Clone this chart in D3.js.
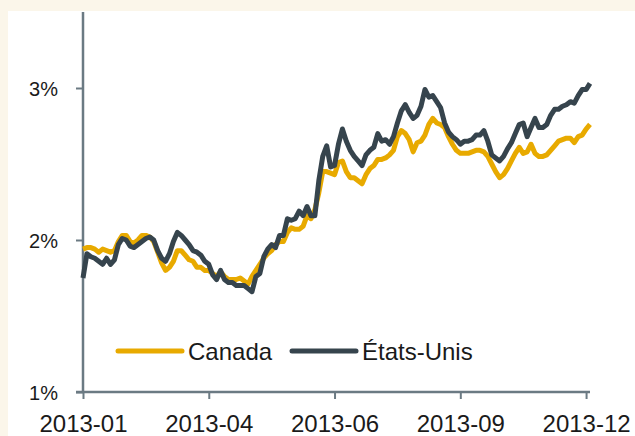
<!DOCTYPE html>
<html>
<head>
<meta charset="utf-8">
<script src="https://cdn.jsdelivr.net/npm/d3@7"></script>
<style>
  body { margin: 0; background: #fbf6ea; }
  text { font-family: "Liberation Sans", Arial, sans-serif; fill: #1a1a1a; }
</style>
</head>
<body>
<div id="chart"></div>
<script>
// rendement obligataire 10 ans, en %
var canada = [1.94,1.95,1.95,1.94,1.92,1.94,1.93,1.92,1.93,1.99,2.03,2.03,1.99,1.98,2.00,2.03,2.03,2.02,1.99,1.92,
  1.85,1.80,1.82,1.86,1.93,1.93,1.90,1.87,1.86,1.82,1.82,1.80,1.80,1.78,1.76,1.79,1.76,1.74,1.74,1.74,
  1.75,1.73,1.71,1.76,1.80,1.84,1.88,1.91,1.93,1.97,1.99,1.99,2.05,2.08,2.07,2.07,2.09,2.16,2.14,2.20,
  2.31,2.45,2.45,2.44,2.43,2.51,2.52,2.45,2.41,2.41,2.39,2.37,2.43,2.47,2.49,2.53,2.53,2.54,2.56,2.59,
  2.68,2.72,2.70,2.66,2.58,2.64,2.65,2.69,2.76,2.80,2.77,2.76,2.74,2.68,2.63,2.59,2.57,2.57,2.57,2.58,
  2.59,2.59,2.58,2.55,2.50,2.45,2.41,2.43,2.47,2.52,2.57,2.61,2.57,2.58,2.63,2.57,2.55,2.55,2.56,2.59,
  2.62,2.65,2.66,2.67,2.67,2.64,2.68,2.69,2.73,2.76];
var etatsUnis = [1.75,1.91,1.89,1.88,1.86,1.84,1.88,1.84,1.87,1.97,2.01,2.00,1.96,1.95,1.97,1.99,2.01,2.02,2.00,1.93,
  1.88,1.86,1.91,1.99,2.05,2.03,2.00,1.97,1.93,1.92,1.90,1.86,1.84,1.77,1.74,1.80,1.74,1.72,1.72,1.70,
  1.70,1.70,1.68,1.66,1.76,1.78,1.89,1.94,1.97,1.95,2.03,2.03,2.14,2.13,2.14,2.19,2.16,2.22,2.16,2.16,
  2.39,2.55,2.62,2.48,2.49,2.63,2.73,2.65,2.59,2.55,2.52,2.49,2.56,2.59,2.61,2.70,2.65,2.66,2.63,2.68,
  2.77,2.85,2.89,2.84,2.80,2.82,2.88,2.99,2.94,2.95,2.91,2.87,2.77,2.71,2.68,2.66,2.63,2.65,2.65,2.66,
  2.69,2.69,2.72,2.65,2.56,2.54,2.52,2.55,2.60,2.64,2.70,2.76,2.77,2.68,2.74,2.80,2.74,2.74,2.76,2.82,
  2.86,2.86,2.88,2.89,2.91,2.90,2.95,2.99,2.99,3.03];
var tickIndex = [0, 32, 64, 96, 128];
var tickLabels = ["2013-01", "2013-04", "2013-06", "2013-09", "2013-12"];
var yTicks = [1, 2, 3];
var seriesNames = ["Canada", "États-Unis"];
var colors = ["#e8aa00", "#36444d"];

var W = 635, H = 436;
var svg = d3.select("#chart").append("svg")
    .attr("width", W)
    .attr("height", H);

// white panel
svg.append("rect")
    .attr("x", 8).attr("y", 11)
    .attr("width", W - 8).attr("height", H - 11)
    .attr("fill", "#ffffff");

var x = d3.scaleLinear()
    .domain([0, canada.length - 1])
    .range([83, 590]);
var y = d3.scaleLinear()
    .domain([1, 3.5])
    .range([392, 12]);

var axisColor = "#6b7a83";

// Y axis
var yAxis = svg.append("g")
    .attr("transform", "translate(83,0)")
    .call(d3.axisLeft(y).tickValues(yTicks).tickSize(7).tickPadding(18)
        .tickFormat(function(d) { return d + "%"; }));
yAxis.select(".domain").attr("stroke", axisColor).attr("stroke-width", 2.5).attr("d", "M0,12V392");
yAxis.selectAll(".tick line").attr("stroke", axisColor).attr("stroke-width", 2);
yAxis.selectAll(".tick text").attr("font-size", 20).attr("fill", "#1a1a1a")
    .attr("font-family", "Liberation Sans, Arial, sans-serif").attr("dy", "0.35em");

// X axis
var xAxis = svg.append("g")
    .attr("transform", "translate(0,392)")
    .call(d3.axisBottom(x).tickValues(tickIndex).tickSize(7).tickPadding(16)
        .tickFormat(function(d, i) { return tickLabels[i]; }));
xAxis.select(".domain").attr("stroke", axisColor).attr("stroke-width", 2.5).attr("d", "M76,0H590");
xAxis.selectAll(".tick line").attr("stroke", axisColor).attr("stroke-width", 2);
xAxis.selectAll(".tick text").attr("font-size", 24).attr("fill", "#1a1a1a")
    .attr("font-family", "Liberation Sans, Arial, sans-serif");

// Lines
var line = d3.line()
    .x(function(d, i) { return x(i); })
    .y(function(d) { return y(d); });

[canada, etatsUnis].forEach(function(s, k) {
    svg.append("path")
        .datum(s)
        .attr("fill", "none")
        .attr("stroke", colors[k])
        .attr("stroke-width", 5)
        .attr("stroke-linejoin", "round")
        .attr("d", line);
});

// Legend
var legendX = [118, 292];
seriesNames.forEach(function(name, k) {
    svg.append("line")
        .attr("x1", legendX[k]).attr("x2", legendX[k] + 64)
        .attr("y1", 351).attr("y2", 351)
        .attr("stroke", colors[k])
        .attr("stroke-width", 5)
        .attr("stroke-linecap", "round");
    svg.append("text")
        .attr("x", legendX[k] + 70)
        .attr("y", 360)
        .attr("font-size", 24)
        .text(name);
});
</script>
</body>
</html>
